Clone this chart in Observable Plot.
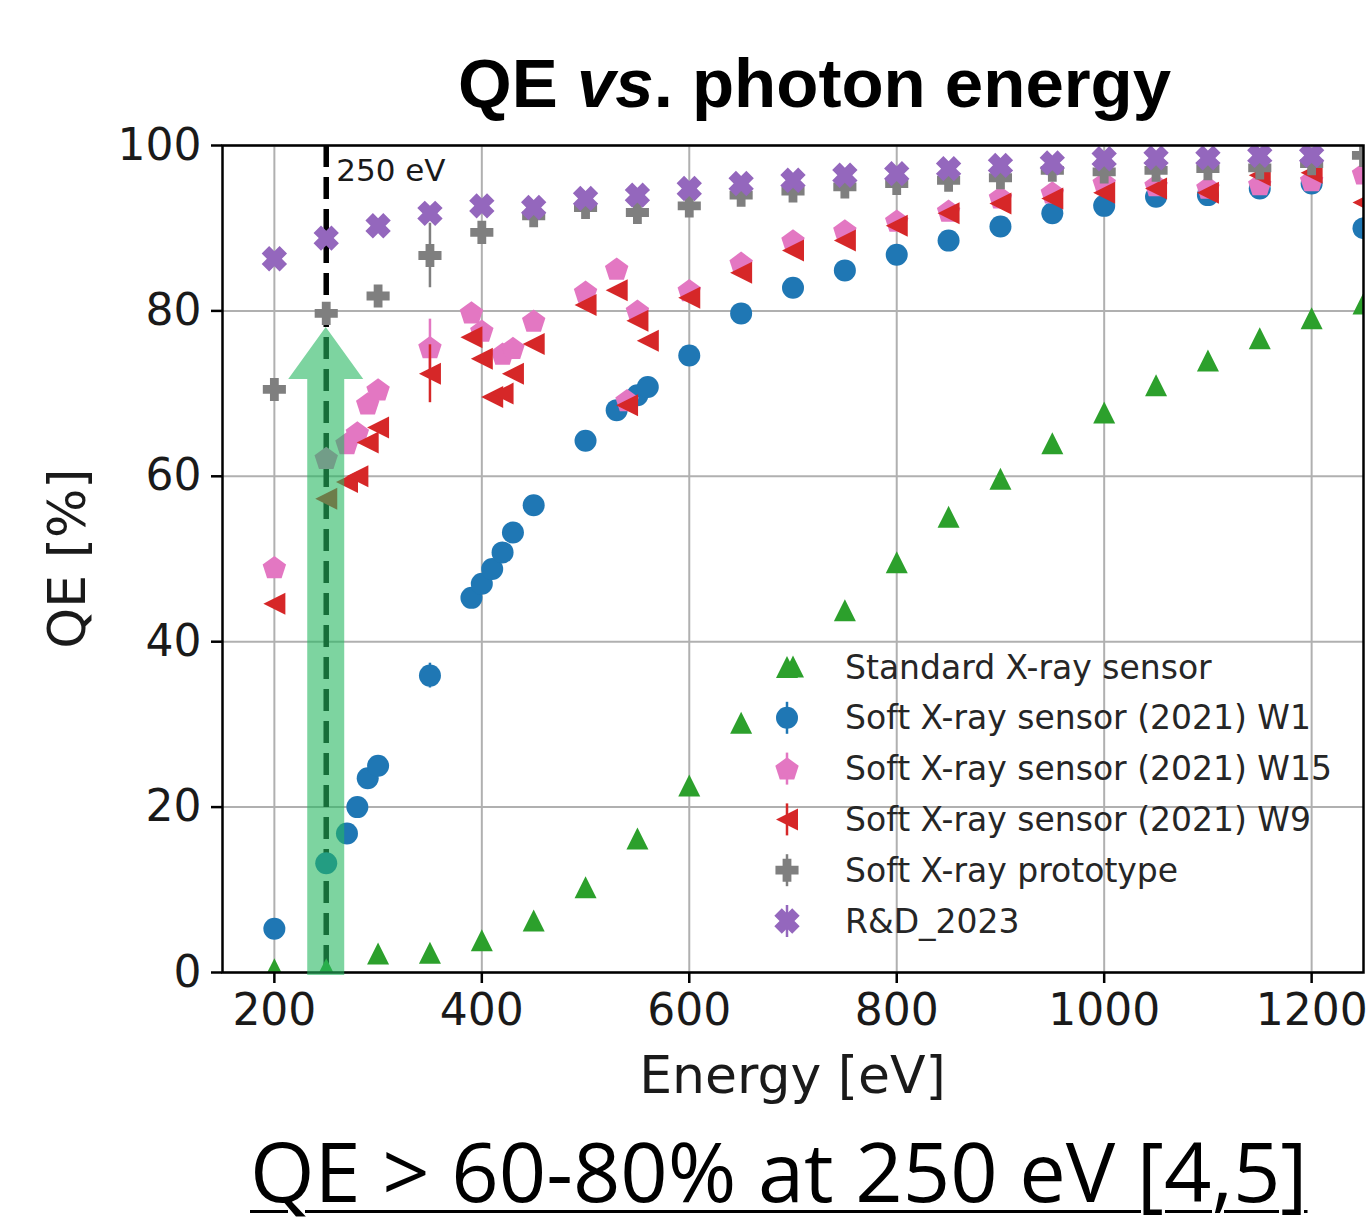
<!DOCTYPE html>
<html><head><meta charset="utf-8">
<script src="https://cdn.jsdelivr.net/npm/d3@7"></script>
<script src="https://cdn.jsdelivr.net/npm/@observablehq/plot@0.6"></script>
<style>
body{margin:0;background:#fff;width:1370px;height:1225px;position:relative;overflow:hidden}
#title{position:absolute;left:458px;top:50px;font-family:"Liberation Sans",Arial,sans-serif;font-weight:bold;font-size:69px;line-height:68px;white-space:nowrap;color:#000}
#chart{position:absolute;left:0;top:100px}
#caption{position:absolute;left:250px;top:1128px;font-family:"Open Sans",sans-serif;font-size:83px;line-height:83px;white-space:nowrap;color:#000;text-decoration:underline;text-decoration-thickness:3px;text-underline-offset:8px}
</style></head>
<body>
<div id="title">QE <i>vs</i>. photon energy</div>
<div id="chart"></div>
<div id="caption">QE &gt; 60-80% at 250 eV [4,5]</div>
<script>
// ---------- data ----------
const seriesNames = ["Standard X-ray sensor","Soft X-ray sensor (2021) W1","Soft X-ray sensor (2021) W15","Soft X-ray sensor (2021) W9","Soft X-ray prototype","R&D_2023"];
const seriesColors = ["#2ca02c","#1f77b4","#e377c2","#d62728","#7f7f7f","#9467bd"];

const stdEnergy = [200,250,300,350,400,450,500,550,600,650,700,750,800,850,900,950,1000,1050,1100,1150,1200,1250];
const stdQE     = [0.4,0.4,2.3,2.4,3.9,6.3,10.3,16.2,22.6,30.2,37,43.8,49.6,55.1,59.7,64,67.7,71,74,76.7,79.1,80.9];

const w1Energy = [200,250,270,280,290,300,350,390,400,410,420,430,450,500,530,550,560,600,650,700,750,800,850,900,950,1000,1050,1100,1150,1200,1250];
const w1QE     = [5.3,13.2,16.8,20,23.5,25,35.9,45.3,47,48.8,50.8,53.2,56.5,64.3,68,69.8,70.8,74.6,79.7,82.8,84.9,86.8,88.5,90.2,91.8,92.7,93.8,94,94.8,95.4,90];

const w15Energy = [200,250,270,280,290,300,350,390,400,420,430,450,500,530,540,550,600,650,700,750,800,850,900,950,1000,1050,1100,1150,1200,1250];
const w15QE     = [49,62.2,64,65.3,68.8,70.5,75.6,79.8,77.6,74.8,75.5,78.8,82.3,85.1,69.2,80,82.5,85.8,88.5,89.7,90.9,92.1,93.7,94.3,95.5,95.2,94.9,95.3,95.8,96.6];

const w9Energy = [200,250,270,280,290,300,350,390,400,410,420,430,450,500,530,540,550,560,600,650,700,750,800,850,900,950,1000,1050,1100,1150,1200,1250];
const w9QE     = [44.6,57.3,59.3,60,64.1,65.9,72.4,76.8,74.2,69.6,70,72.4,76,80.7,82.5,68.6,78.8,76.4,81.6,84.6,87.3,88.5,90.3,91.8,93,93.6,94.3,94.8,94.3,96.4,96.7,93.1];

const protoEnergy = [200,250,300,350,400,450,500,550,600,650,700,750,800,850,900,950,1000,1050,1100,1150,1200,1250];
const protoQE     = [70.5,79.7,81.8,86.7,89.5,91.5,92.5,91.9,92.7,94,94.5,95,95.4,95.8,96.1,97,96.8,97,97.2,97.3,97.8,98.8];

const rdEnergy = [200,250,300,350,400,450,500,550,600,650,700,750,800,850,900,950,1000,1050,1100,1150,1200];
const rdQE     = [86.3,88.8,90.3,91.8,92.7,92.5,93.6,94,94.8,95.4,95.8,96.4,96.6,97.2,97.6,97.9,98.4,98.5,98.5,98.8,98.8];

// visible error bars: series index, energy, half-width
const errSeries = [1,2,3,4];
const errEnergy = [350,350,350,350];
const errHalf   = [1.5,3.4,3.5,3.9];

const xTicks = [200,400,600,800,1000,1200];
const yTicks = [0,20,40,60,80,100];
const markerEnergy = [250];
const markerLabel = ["250 eV"];
const arrowTopQE = [78];
const xLabel = "Energy [eV]";
const yLabel = "QE [%]";

// ---------- symbols ----------
function poly(fn){ return {draw(ctx,size){ const h=Math.sqrt(size/Math.PI); const p=fn(h); ctx.moveTo(p[0][0],p[0][1]); for(let i=1;i<p.length;i++) ctx.lineTo(p[i][0],p[i][1]); ctx.closePath(); }}; }
function plusPts(L,a){ return [[-a,-L],[a,-L],[a,-a],[L,-a],[L,a],[a,a],[a,L],[-a,L],[-a,a],[-L,a],[-L,-a],[-a,-a]]; }
const symTriUp = poly(h=>[[0,-h],[h,h],[-h,h]]);
const symTriLeft = poly(h=>[[-h,0],[h,-h],[h,h]]);
const symPent = poly(h=>d3.range(5).map(k=>{const t=(-90+72*k)*Math.PI/180; return [1.12*h*Math.cos(t),1.12*h*Math.sin(t)+1];}));
const symPlus = poly(h=>plusPts(h*1.05,h*0.4));
const symX = poly(h=>plusPts(h*1.15,h*0.48).map(([x,y])=>[(x-y)/Math.SQRT2,(x+y)/Math.SQRT2]));
const symbols = [symTriUp, d3.symbolCircle, symPent, symTriLeft, symPlus, symX];

const energies = [stdEnergy,w1Energy,w15Energy,w9Energy,protoEnergy,rdEnergy];
const values = [stdQE,w1QE,w15QE,w9QE,protoQE,rdQE];
const seriesData = energies.map((E,s)=>E.map((e,i)=>({s, energy:e, qe:values[s][i]})));
const errRows = errSeries.map((s,i)=>{const idx=energies[s].indexOf(errEnergy[i]); const v=values[s][idx]; return {s, energy:errEnergy[i], lo:v-errHalf[i], hi:v+errHalf[i]};});

const R = 11;
const plot = Plot.plot({
  width:1370, height:1010,
  marginLeft:222, marginRight:7, marginTop:45, marginBottom:138,
  x:{domain:[150,1250]},
  y:{domain:[0,100]},
  style:{fontFamily:"DejaVu Sans", fontSize:"44px", color:"#1a1a1a", background:"transparent"},
  marks:[
    Plot.gridX(xTicks,{stroke:"#b0b0b0", strokeOpacity:1, strokeWidth:2}),
    Plot.gridY(yTicks,{stroke:"#b0b0b0", strokeOpacity:1, strokeWidth:2}),
    Plot.ruleX(markerEnergy,{stroke:"#000", strokeWidth:5.5, strokeDasharray:"22,10"}),
    Plot.text(markerLabel,{x:()=>markerEnergy[0], frameAnchor:"top", textAnchor:"start", lineAnchor:"top", dx:10, dy:13, fontSize:31, fill:"#1a1a1a"}),
    ...seriesData.map((d,s)=>[
      Plot.ruleX(errRows.filter(r=>r.s===s),{x:"energy", y1:"lo", y2:"hi", stroke:seriesColors[s], strokeWidth:2.5, clip:true}),
      Plot.dot(d,{x:"energy", y:"qe", symbol:()=>symbols[s], r:R, fill:seriesColors[s], stroke:"none", clip:true})
    ]).flat(),
    Plot.frame({stroke:"#000", strokeWidth:2.5}),
    Plot.axisX(xTicks,{tickSize:11, tickPadding:10, label:null, strokeWidth:2.5, stroke:"#000", tickFormat:d=>String(d)}),
    Plot.axisY(yTicks,{tickSize:11, tickPadding:10, label:null, strokeWidth:2.5, stroke:"#000", tickFormat:d=>String(d)})
  ]
});
document.getElementById("chart").appendChild(plot);

const svg = d3.select(plot);
const sx = plot.scale("x"), sy = plot.scale("y");
const off = 100; // chart top offset on page

// axis labels
svg.append("text").attr("x",792.5).attr("y",1093-off).attr("text-anchor","middle")
  .attr("font-family","DejaVu Sans").attr("font-size",52).attr("fill","#1a1a1a").text(xLabel);
svg.append("text").attr("transform",`translate(85,${(sy.apply(0)+sy.apply(100))/2}) rotate(-90)`).attr("text-anchor","middle")
  .attr("font-family","DejaVu Sans").attr("font-size",52).attr("fill","#1a1a1a").text(yLabel);

// legend
const lg = svg.append("g").attr("text-anchor","start");
seriesNames.forEach((name,i)=>{
  const y = 667 - off + i*50.8, x = 787;
  if (i>0) lg.append("line").attr("x1",x).attr("x2",x).attr("y1",y-16).attr("y2",y+16).attr("stroke",seriesColors[i]).attr("stroke-width",2.5);
  lg.append("path").attr("d",d3.symbol(symbols[i], Math.PI*R*R)()).attr("transform",`translate(${x},${y})`).attr("fill",seriesColors[i]);
  lg.append("text").attr("x",845).attr("y",y).attr("dy","0.35em").attr("text-anchor","start").attr("font-family","DejaVu Sans").attr("font-size",33).attr("fill","#262626").text(name);
});

// highlight arrow at 250 eV (drawn on top, translucent)
const ax = sx.apply(markerEnergy[0]);
const yTip = sy.apply(arrowTopQE[0]);
const yBase = sy.apply(0) + 3;
const headH = 52, shaftW = 18.5, headW = 37.5;
const pts = [[ax-shaftW,yBase],[ax-shaftW,yTip+headH],[ax-headW,yTip+headH],[ax,yTip],[ax+headW,yTip+headH],[ax+shaftW,yTip+headH],[ax+shaftW,yBase]];
svg.append("path").attr("d","M"+pts.map(p=>p.join(",")).join("L")+"Z").attr("fill","rgb(39,183,97)").attr("fill-opacity",0.6);
</script>
</body></html>
